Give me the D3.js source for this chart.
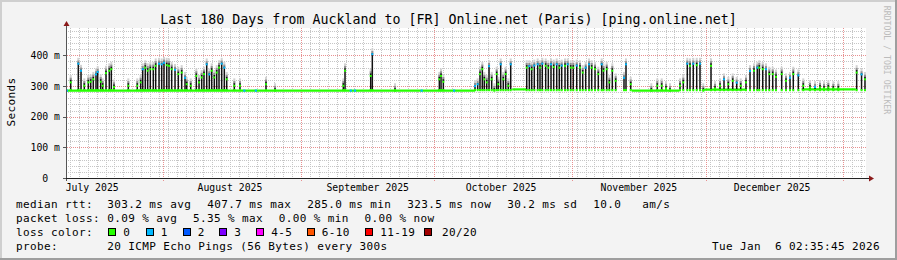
<!DOCTYPE html>
<html><head><meta charset="utf-8">
<script src="https://cdn.jsdelivr.net/npm/d3@7"></script>
<style>
body{margin:0;background:#f3f3f3}
svg{display:block}
text{font-family:"DejaVu Sans Mono",monospace;white-space:pre}
</style>
</head><body><svg id="c" width="897" height="260"></svg>
<script>
// ---------------- data ----------------
const title = "Last 180 Days from Auckland to [FR] Online.net (Paris) [ping.online.net]";
const yTicks = [0, 100, 200, 300, 400];
const yTickLabels = ["0  ", "100 m", "200 m", "300 m", "400 m"];
const monthLabels = ["July 2025", "August 2025", "September 2025", "October 2025", "November 2025", "December 2025"];
const yMaxMs = 489.24;

// median rtt peaks: days after the start of the window, ms, and loss class (0 = 0 lost, 1 = 1 lost)
const spikeDay = [1.06,2.77,3.38,4.12,5.02,5.56,6.14,6.75,7.13,7.81,8.26,9.0,9.74,10.2,10.8,14.02,16.04,16.8,17.26,17.84,18.38,18.97,19.64,20.18,20.93,21.53,22.05,22.66,23.18,23.78,24.53,25.27,26.03,26.78,27.16,28.06,29.32,29.93,30.53,31.05,31.66,32.24,32.78,33.37,33.91,34.43,35.03,35.62,36.16,37.87,39.15,45.0,47.03,
62.4,62.78,68.56,68.92,74.03,84.0,84.38,84.9,
92.03,92.63,93.15,93.67,94.12,94.66,95.18,95.78,96.37,96.91,97.27,97.81,98.39,98.93,99.52,100.06,
103.66,104.25,104.78,105.37,106.13,106.65,107.17,107.93,108.52,109.13,109.73,110.41,110.99,111.53,112.28,112.88,113.56,114.14,114.91,115.65,116.26,116.93,117.68,118.28,119.03,119.77,120.53,120.94,121.66,122.25,122.92,123.68,125.55,126.0,127.06,
131.7,133.04,134.03,135.0,135.9,138.15,138.89,139.79,140.4,141.14,141.91,142.65,143.39,145.13,146.03,147.15,148.05,149.02,150.01,150.91,151.81,153.0,153.9,154.8,155.54,155.99,156.76,157.5,158.24,159.01,159.75,161.03,162.0,162.9,163.64,164.77,165.89,167.4,168.53,169.65,170.55,171.52,172.64,173.77,177.9,179.0,179.77];
const spikeMs = [320,376,353,309,320,322,330,341,349,322,309,350,358,363,305,309,309,320,358,368,358,363,363,374,376,374,379,376,374,363,356,347,352,330,314,309,341,320,336,347,374,341,358,336,352,368,376,363,330,309,309,314,293,
309,358,341,407,293,330,341,322,
303,309,347,363,330,320,368,330,293,347,314,374,330,347,309,374,
368,368,363,370,374,368,376,374,368,374,370,374,368,370,374,374,368,368,370,368,352,363,374,368,363,347,374,358,363,320,358,325,330,374,314,
293,309,309,300,293,309,320,376,374,376,376,376,293,374,300,309,325,314,325,314,309,320,352,358,363,368,363,358,347,347,338,347,325,330,347,338,309,303,300,303,300,303,300,300,352,341,330];
const spikeLoss = [0,1,1,0,0,0,0,1,1,0, 0,0,0,0,0,0,0,0,1,0, 0,0,0,0,1,1,1,0,0,0, 1,0,0,1,0,0,0,0,0,0, 1,1,0,0,0,0,1,1,0,0, 0,0,0,
0,0,0,1,0,0,0,0,
1,1,0,0,0,0,1,0,0,0,0,1,0,0,0,1,
0,1,0,1,1,0,1,0,0,1, 0,1,0,1,0,1,0,0,1,0, 0,1,1,0,0,0,1,0,0,0, 0,0,1,1,0,
0,0,0,0,0,0,0,1,0,1, 0,1,0,0,0,0,1,0,0,1, 0,0,1,0,1,0,0,1,0,0, 0,0,0,1,0,1,0,0,1,0, 0,0,0,0,0,1,0];
const spikeLowMs = 287;

// periods where the median stays flat
const flatFrom = [0, 100.4, 127.3, 143.5, 165.5];
const flatTo   = [92.0, 103.5, 138.0, 153.2, 177.7];
const flatMs   = [285, 289, 285, 288, 289];

// single-loss marks on the flat line
const baseLossDay = [0.2, 40.1, 42.7, 64.06, 65.0, 80.0, 87.3];
const baseLossMs = 285;

const lossLabels = ["0", "1", "2", "3", "4-5", "6-10", "11-19", "20/20"];
const lossColors = ["#26ff00", "#00b8ff", "#0059ff", "#7e00ff", "#ff00ff", "#ff5500", "#ff0000", "#a10000"];

const statsRtt = ["303.2 ms avg", "407.7 ms max", "285.0 ms min", "323.5 ms now", "30.2 ms sd", "10.0   am/s"];
const statsLoss = ["0.09 % avg", "5.35 % max", "0.00 % min", "0.00 % now"];
const probeText = "20 ICMP Echo Pings (56 Bytes) every 300s";
const stampText = "Tue Jan  6 02:35:45 2026";

// ---------------- drawing ----------------
const W = 897, H = 260;
const X0 = 66, X1 = 866, Y0 = 178, Y1 = 28;
const DAY = 864e5;
const t0 = new Date(Date.UTC(2025, 6, 10, 2, 35, 45));
const t1 = new Date(Date.UTC(2026, 0, 6, 2, 35, 45));
const x = d3.scaleUtc().domain([t0, t1]).range([X0, X1]);
const y = d3.scaleLinear().domain([0, yMaxMs]).range([Y0, Y1]);
const crisp = v => Math.round(v) + 0.5;

const svg = d3.select("#c");
svg.append("rect").attr("width", W).attr("height", H).attr("fill", "#f3f3f3");
svg.append("rect").attr("x", 0).attr("y", 0).attr("width", W).attr("height", 2).attr("fill", "#cfcfcf");
svg.append("rect").attr("x", 0).attr("y", 0).attr("width", 2).attr("height", H).attr("fill", "#cfcfcf");
svg.append("rect").attr("x", 0).attr("y", H - 2).attr("width", W).attr("height", 2).attr("fill", "#9e9e9e");
svg.append("rect").attr("x", W - 2).attr("y", 0).attr("width", 2).attr("height", H).attr("fill", "#9e9e9e");

svg.append("rect").attr("x", X0).attr("y", Y1).attr("width", X1 - X0).attr("height", Y0 - Y1).attr("fill", "#ffffff");

svg.append("defs").append("clipPath").attr("id", "clip")
  .append("rect").attr("x", X0).attr("y", Y1 - 2).attr("width", X1 - X0).attr("height", Y0 - Y1 + 2);

// grid
const grid = svg.append("g").attr("shape-rendering", "crispEdges");
const minorDays = d3.utcDay.range(d3.utcDay.ceil(t0), t1).filter(d => Math.round(+d / DAY) % 2 === 0);
grid.selectAll(".vmin").data(minorDays).join("line")
  .attr("x1", d => crisp(x(d))).attr("x2", d => crisp(x(d)))
  .attr("y1", Y1).attr("y2", Y0)
  .attr("stroke", "#c6c6c6").attr("stroke-dasharray", "1,1");
const minorMs = d3.range(20, yMaxMs, 20).filter(v => v % 100 !== 0);
grid.selectAll(".hmin").data(minorMs).join("line")
  .attr("x1", X0).attr("x2", X1)
  .attr("y1", d => crisp(y(d))).attr("y2", d => crisp(y(d)))
  .attr("stroke", "#c6c6c6").attr("stroke-dasharray", "1,1");
const months = d3.utcMonth.range(d3.utcMonth.ceil(t0), t1);
grid.selectAll(".vmaj").data(months).join("line")
  .attr("x1", d => crisp(x(d))).attr("x2", d => crisp(x(d)))
  .attr("y1", Y1).attr("y2", Y0 + 3)
  .attr("stroke", "#e89090").attr("stroke-dasharray", "1,1");
grid.selectAll(".hmaj").data(yTicks.filter(v => v > 0)).join("line")
  .attr("x1", X0 - 3).attr("x2", X1)
  .attr("y1", d => crisp(y(d))).attr("y2", d => crisp(y(d)))
  .attr("stroke", "#e89090").attr("stroke-dasharray", "1,1");

// data
const spikes = spikeDay.map((d, i) => ({ t: new Date(+t0 + d * DAY), ms: spikeMs[i], loss: spikeLoss[i] }));
const plot = svg.append("g").attr("clip-path", "url(#clip)");

plot.selectAll(".flat").data(flatFrom.map((f, i) => ({ a: new Date(+t0 + f * DAY), b: new Date(+t0 + flatTo[i] * DAY), ms: flatMs[i] })))
  .join("line")
  .attr("x1", d => x(d.a)).attr("x2", d => x(d.b))
  .attr("y1", d => y(d.ms)).attr("y2", d => y(d.ms))
  .attr("stroke", lossColors[0]).attr("stroke-width", 2.2);

plot.selectAll(".smoke1").data(spikes).join("rect")
  .attr("x", d => x(d.t) - 1).attr("width", 2)
  .attr("y", d => y(d.ms + 16)).attr("height", d => y(d.ms - 4) - y(d.ms + 16))
  .attr("fill", "#d2d2d2");
plot.selectAll(".smoke2").data(spikes).join("rect")
  .attr("x", d => x(d.t) - 1).attr("width", 2)
  .attr("y", d => y(d.ms + 7)).attr("height", d => y(d.ms - 4) - y(d.ms + 7))
  .attr("fill", "#909090");
plot.selectAll(".spike").data(spikes).join("rect")
  .attr("x", d => x(d.t) - 0.75).attr("width", 1.5)
  .attr("y", d => y(d.ms)).attr("height", d => y(spikeLowMs) - y(d.ms))
  .attr("fill", "#111");
plot.selectAll(".low").data(spikes).join("rect")
  .attr("x", d => x(d.t) - 1).attr("width", 2)
  .attr("y", y(spikeLowMs) - 1).attr("height", 2.2)
  .attr("fill", lossColors[0]);
plot.selectAll(".top").data(spikes).join("rect")
  .attr("x", d => x(d.t) - 1).attr("width", 2)
  .attr("y", d => y(d.ms) + (d.loss ? 0 : 1.5)).attr("height", 2)
  .attr("fill", d => lossColors[d.loss]);
plot.selectAll(".bl").data(baseLossDay).join("rect")
  .attr("x", d => x(new Date(+t0 + d * DAY)) - 1).attr("width", 2.2)
  .attr("y", y(baseLossMs) - 1.1).attr("height", 2.2)
  .attr("fill", lossColors[1]);

// axes
svg.append("line").attr("x1", crisp(X0)).attr("x2", crisp(X0)).attr("y1", Y0 + 3).attr("y2", Y1 - 4).attr("stroke", "#555");
svg.append("line").attr("x1", X0 - 3).attr("x2", X1 + 4).attr("y1", crisp(Y0)).attr("y2", crisp(Y0)).attr("stroke", "#222");
svg.selectAll(".ytick").data(yTicks).join("line")
  .attr("x1", X0 - 3).attr("x2", X0).attr("y1", d => crisp(y(d))).attr("y2", d => crisp(y(d))).attr("stroke", "#555");
svg.append("path").attr("d", `M${X0 - 2.5},${Y1 - 2} L${X0 + 3.5},${Y1 - 2} L${X0 + 0.5},${Y1 - 7} Z`).attr("fill", "#8b1a1a");
svg.append("path").attr("d", `M${X1 + 3},${Y0 - 2.5} L${X1 + 3},${Y0 + 3.5} L${X1 + 8},${Y0 + 0.5} Z`).attr("fill", "#8b1a1a");

// axis labels
svg.selectAll(".yl").data(yTicks).join("text")
  .attr("x", 60).attr("y", d => y(d) + 3.5).attr("text-anchor", "end")
  .attr("font-size", "9.8px").attr("fill", "#000").text((d, i) => yTickLabels[i]);
const monthStarts = d3.utcMonth.range(d3.utcMonth.floor(t0), t1);
svg.selectAll(".xl").data(monthStarts.map((m, i) => ({ m, i })).filter(o => +d3.utcDay.offset(o.m, 15) < +t1))
  .join("text")
  .attr("x", o => x(d3.utcDay.offset(o.m, 15))).attr("y", 190.5).attr("text-anchor", "middle")
  .attr("font-size", "9.8px").attr("fill", "#000").text(o => monthLabels[o.i]);

svg.append("text").attr("transform", "translate(14.5,102) rotate(-90)").attr("text-anchor", "middle")
  .attr("font-size", "11px").attr("letter-spacing", "0.38px").text("Seconds");

svg.append("text").attr("x", 448.5).attr("y", 23.5).attr("text-anchor", "middle")
  .attr("font-size", "13.3px").text(title);

svg.append("text").attr("transform", "translate(884,60) rotate(90)").attr("text-anchor", "middle")
  .attr("font-size", "8.2px").attr("fill", "#bcbcbc").text("RRDTOOL / TOBI OETIKER");

// legend
function lt(xp, yp, s, anchor) {
  return svg.append("text").attr("x", xp).attr("y", yp).attr("font-size", "11px")
    .attr("letter-spacing", "0.38px").attr("text-anchor", anchor || "start").attr("fill", "#000").text(s);
}
const row = [208.3, 222.3, 236.2, 250.2];
lt(16, row[0], "median rtt:");
[107.3, 207.3, 307.3, 407.3, 507.3, 593.3].forEach((xp, i) => lt(xp, row[0], statsRtt[i]));
lt(16, row[1], "packet loss:");
[107.3, 193, 278.7, 364.4].forEach((xp, i) => lt(xp, row[1], statsLoss[i]));
lt(16, row[2], "loss color:");
const swX = [108.3, 145.7, 182.7, 219.3, 256.3, 306.7, 365.3, 424];
const labX = [123.3, 160.7, 197.7, 234.3, 271.3, 321.7, 380.3, 442];
lossLabels.forEach((l, i) => {
  svg.append("rect").attr("x", Math.round(swX[i]) + 0.5).attr("y", 228.5).attr("width", 7).attr("height", 7)
    .attr("fill", lossColors[i]).attr("stroke", "#000").attr("stroke-width", 1);
  lt(labX[i], row[2], l);
});
lt(16, row[3], "probe:");
lt(107.3, row[3], probeText);
lt(880, row[3], stampText, "end");
</script>
</body></html>
